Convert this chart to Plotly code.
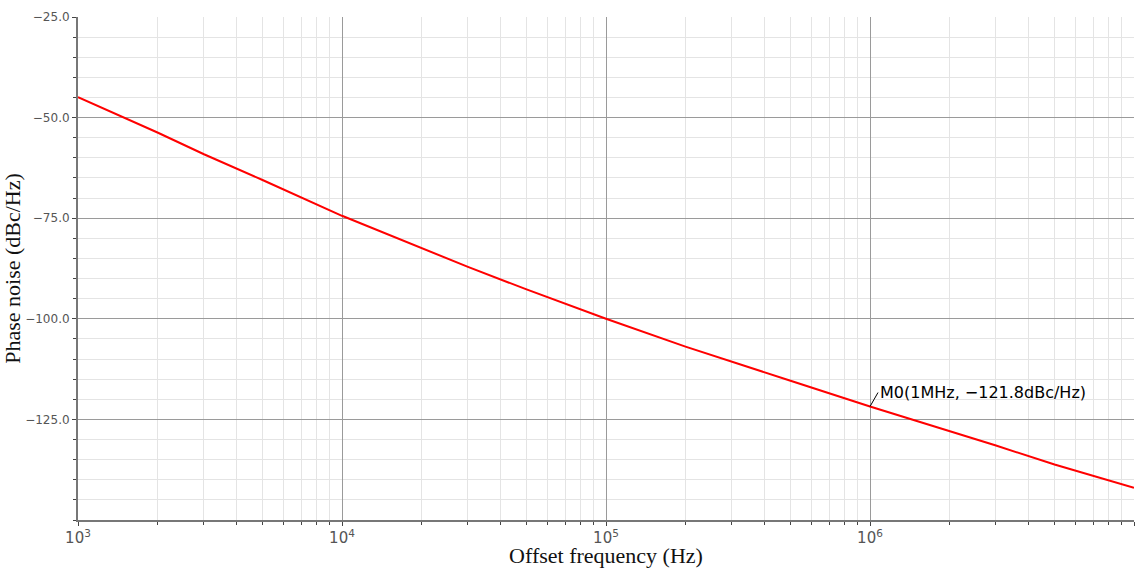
import math
import plotly.graph_objects as go

freq_hz = [1e3, 2e3, 3e3, 5e3, 1e4, 2e4, 3e4, 5e4, 1e5, 2e5, 3e5, 5e5, 1e6, 2e6, 3e6, 5e6, 1e7]
phase_noise = [-44.9, -53.7, -59.1, -65.5, -74.4, -82.4, -87.1, -92.7, -100.0, -106.9, -110.6, -115.4, -121.8, -127.8, -131.5, -136.2, -142.0]
marker_freq = 1e6
marker_val = -121.8
marker_text = "M0(1MHz, \u2212121.8dBc/Hz)"
y_ticks = [-25, -50, -75, -100, -125]

fig = go.Figure()
fig.add_trace(go.Scatter(x=freq_hz, y=phase_noise, mode="lines",
                         line=dict(color="#ff0000", width=2),
                         showlegend=False, hoverinfo="skip"))

fig.add_annotation(x=math.log10(marker_freq), y=marker_val, xref="x", yref="y",
                   text=marker_text, showarrow=True, arrowhead=0, arrowwidth=1,
                   arrowcolor="#000000", ax=8, ay=-14, xanchor="left", yanchor="middle",
                   font=dict(family="DejaVu Sans", size=16, color="#000000"))

tickfont = dict(family="DejaVu Sans", size=12, color="#555555")
fig.update_layout(
    width=1135, height=568,
    margin=dict(l=78, r=1, t=17, b=48),
    paper_bgcolor="white", plot_bgcolor="white",
    xaxis=dict(type="log", range=[3, 7], dtick=1, exponentformat="power",
               showgrid=True, gridcolor="#9a9a9a", gridwidth=1,
               showline=True, linecolor="#777777", linewidth=2, mirror=False,
               ticks="outside", ticklen=4, tickcolor="#444444",
               minor=dict(dtick="D1", showgrid=True, gridcolor="#e4e4e4",
                          ticks="outside", ticklen=3, tickcolor="#444444"),
               tickfont=dict(family="DejaVu Sans", size=12, color="#555555"), zeroline=False,
               title=dict(text="Offset frequency (Hz)", standoff=4,
                          font=dict(family="Liberation Serif", size=22, color="#111111"))),
    yaxis=dict(range=[-150, -25], tickvals=y_ticks, tickformat=".1f",
               showgrid=True, gridcolor="#9a9a9a", gridwidth=1,
               showline=True, linecolor="#777777", linewidth=2,
               ticks="outside", ticklen=4, tickcolor="#444444",
               minor=dict(dtick=5, showgrid=True, gridcolor="#e4e4e4",
                          ticks="outside", ticklen=3, tickcolor="#444444"),
               tickfont=tickfont, zeroline=False,
               title=dict(text="Phase noise (dBc/Hz)", standoff=2,
                          font=dict(family="Liberation Serif", size=22, color="#111111"))),
)
fig.write_html("out.html")
